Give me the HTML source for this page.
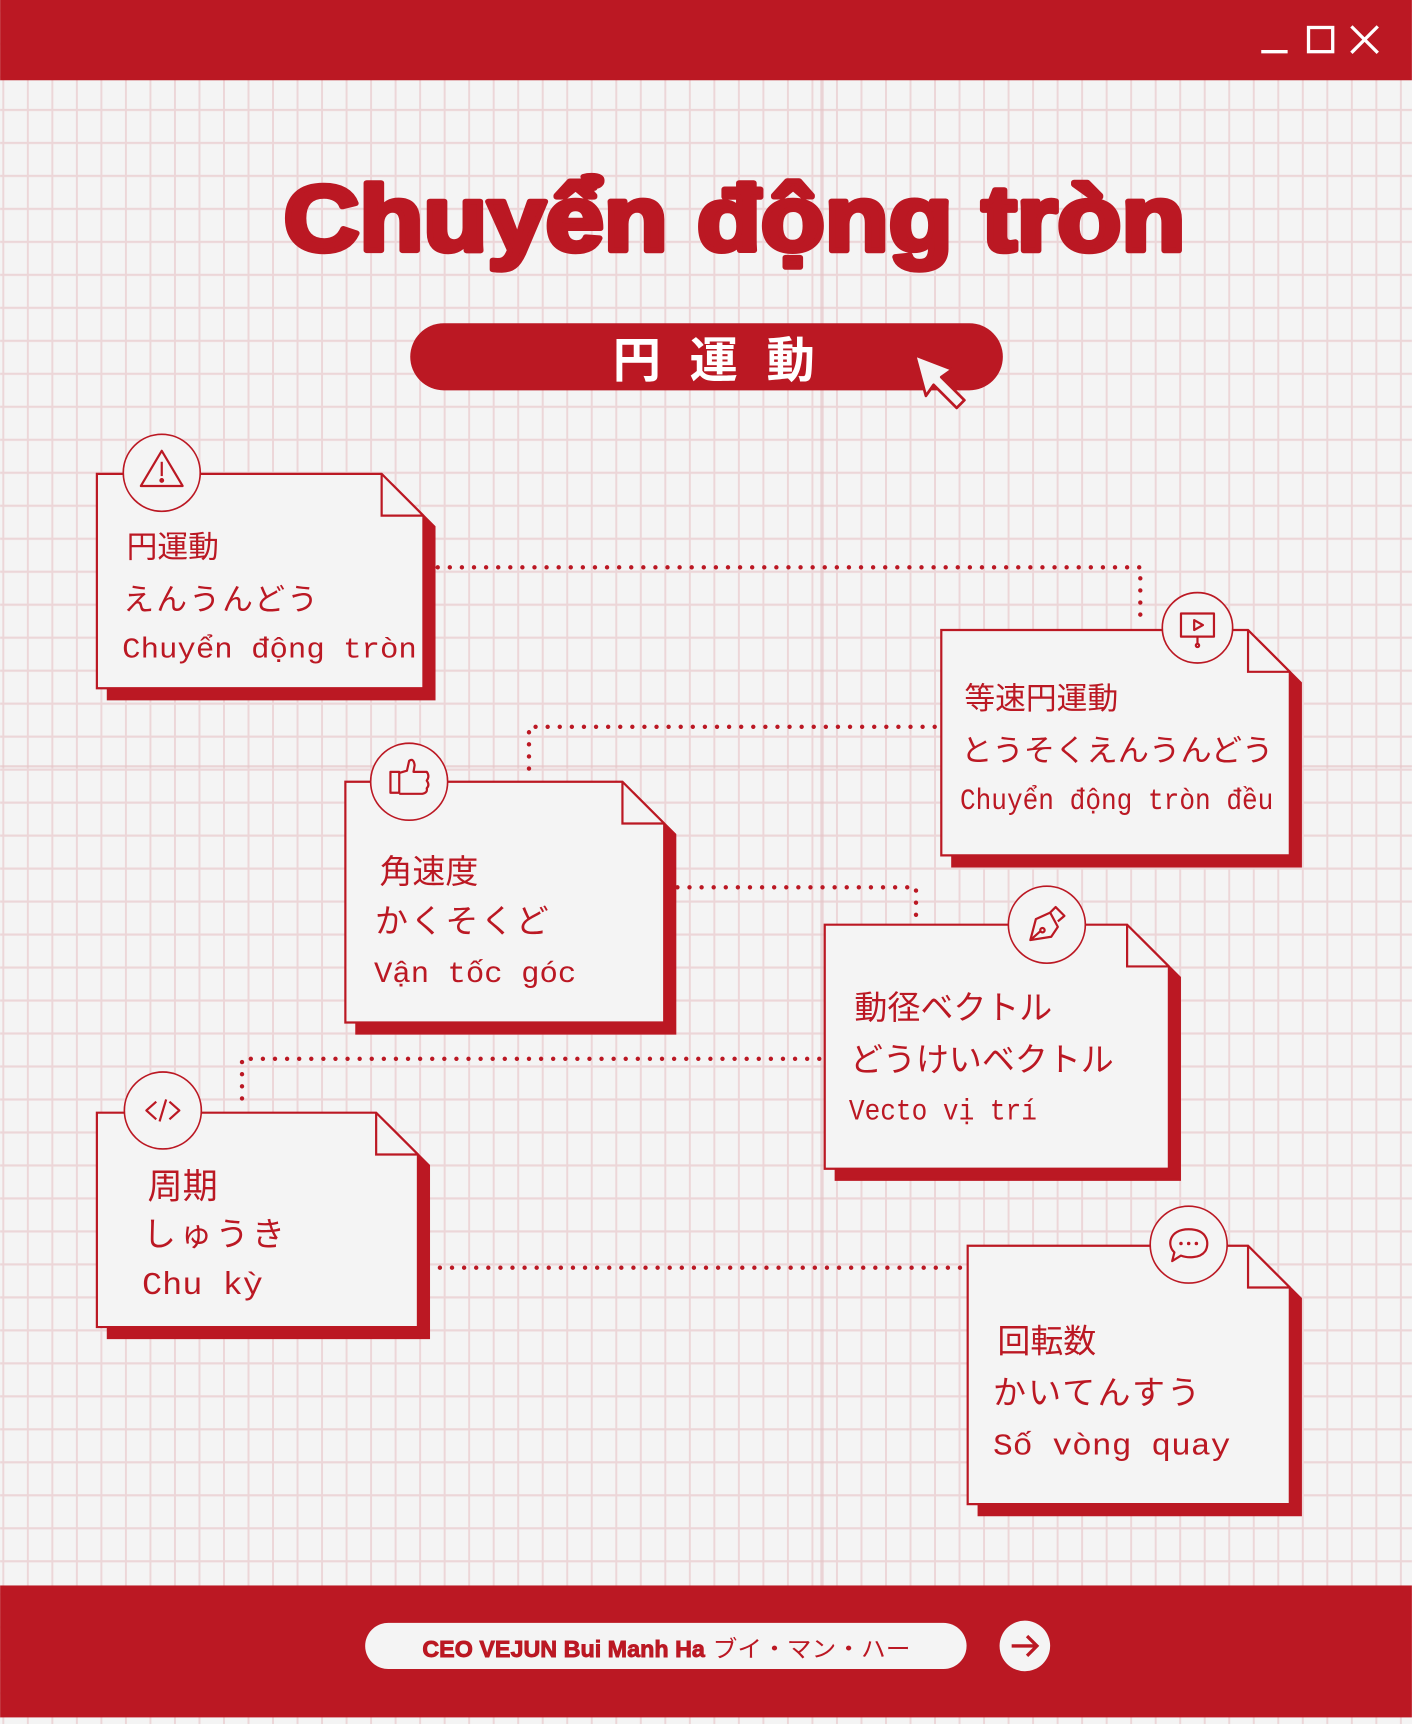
<!DOCTYPE html>
<html><head><meta charset="utf-8"><style>
html,body{margin:0;padding:0;background:#f4f4f4;}
svg{display:block;}
.jp{font-family:"Liberation Sans","Noto Sans CJK JP",sans-serif;fill:#bb1823;}
.vn{font-family:"Liberation Mono","DejaVu Sans Mono",monospace;fill:#bb1823;}
</style></head><body>
<svg width="1412" height="1724" viewBox="0 0 1284 1568" xmlns="http://www.w3.org/2000/svg">
<defs>
<pattern id="g" x="2" y="9" width="22.3" height="30" patternUnits="userSpaceOnUse">
<rect x="0" y="0" width="1.8" height="30" fill="#ecd6d8"/>
<rect x="0" y="0" width="22.3" height="2" fill="#ecd6d8"/>
</pattern>
</defs>
<rect width="1284" height="1568" fill="#f4f4f4"/>
<rect width="1284" height="1568" fill="url(#g)"/>
<rect x="746" y="73" width="3" height="1370" fill="#e6c5c8" opacity="0.7"/>
<rect x="0" y="696" width="1284" height="2" fill="#e6c5c8" opacity="0.7"/>
<!-- header -->
<rect x="0" y="0" width="1284" height="73" fill="#bb1823"/>
<g stroke="#fff" stroke-width="3" fill="none">
<line x1="1147" y1="47" x2="1171" y2="47"/>
<rect x="1190" y="25" width="22" height="22"/>
<line x1="1229" y1="24" x2="1253" y2="48"/><line x1="1253" y1="24" x2="1229" y2="48"/>
</g>
<!-- title -->
<text x="668" y="228" text-anchor="middle" textLength="820" lengthAdjust="spacingAndGlyphs" font-family="Liberation Sans, sans-serif" font-weight="bold" font-size="84" fill="#bb1823" stroke="#bb1823" stroke-width="5" stroke-linejoin="round">Chuyển động tròn</text>
<!-- pill -->
<rect x="373" y="294" width="539" height="61" rx="30.5" fill="#bb1823"/>
<text x="662" y="343" text-anchor="middle" font-family="Liberation Sans,'Noto Sans CJK JP',sans-serif" font-weight="bold" font-size="44" letter-spacing="26" fill="#fff">円運動</text>
<path d="M832 323 L866 336 L856 343 L877 364 L870 371 L849 350 L842 360 Z" fill="#f4f4f4" stroke="#bb1823" stroke-width="2.5" stroke-linejoin="round"/>
<!-- connectors -->
<g stroke="#bb1823" stroke-width="4" stroke-linecap="round" stroke-dasharray="0 11" fill="none">
<path d="M398 516 H1037 V568"/>
<path d="M850 661 H481 V708"/>
<path d="M616 807 H833 V838"/>
<path d="M745 963 H220 V1005"/>
<path d="M400 1153 H877"/>
</g>
<!-- cards -->
<g stroke="#bb1823" stroke-width="2">
<path d="M98 441 H357 L395 479 V636 H98 Z" fill="#bb1823"/>
<path d="M88 431 H347 L385 469 V626 H88 Z" fill="#f4f4f4"/>
<path d="M347 431 V469 H385" fill="none"/>
<circle cx="147" cy="430" r="35" fill="#f4f4f4" stroke-width="1.5"/>
<path d="M866 583 H1145 L1183 621 V788 H866 Z" fill="#bb1823"/>
<path d="M856 573 H1135 L1173 611 V778 H856 Z" fill="#f4f4f4"/>
<path d="M1135 573 V611 H1173" fill="none"/>
<circle cx="1089" cy="571" r="32" fill="#f4f4f4" stroke-width="1.5"/>
<path d="M324 721 H576 L614 759 V940 H324 Z" fill="#bb1823"/>
<path d="M314 711 H566 L604 749 V930 H314 Z" fill="#f4f4f4"/>
<path d="M566 711 V749 H604" fill="none"/>
<circle cx="372" cy="711" r="35" fill="#f4f4f4" stroke-width="1.5"/>
<path d="M760 851 H1035 L1073 889 V1073 H760 Z" fill="#bb1823"/>
<path d="M750 841 H1025 L1063 879 V1063 H750 Z" fill="#f4f4f4"/>
<path d="M1025 841 V879 H1063" fill="none"/>
<circle cx="952" cy="841" r="35" fill="#f4f4f4" stroke-width="1.5"/>
<path d="M98 1022 H352 L390 1060 V1217 H98 Z" fill="#bb1823"/>
<path d="M88 1012 H342 L380 1050 V1207 H88 Z" fill="#f4f4f4"/>
<path d="M342 1012 V1050 H380" fill="none"/>
<circle cx="148" cy="1010" r="35" fill="#f4f4f4" stroke-width="1.5"/>
<path d="M890 1143 H1145 L1183 1181 V1378 H890 Z" fill="#bb1823"/>
<path d="M880 1133 H1135 L1173 1171 V1368 H880 Z" fill="#f4f4f4"/>
<path d="M1135 1133 V1171 H1173" fill="none"/>
<circle cx="1081" cy="1132" r="35" fill="#f4f4f4" stroke-width="1.5"/>
</g>
<!-- icons -->
<g stroke="#bb1823" stroke-width="2" fill="none" stroke-linejoin="round">
<path d="M147 410 L166 442 H128 Z"/><line x1="147" y1="420" x2="147" y2="433"/><circle cx="147" cy="437" r="1.2" fill="#bb1823"/>
<rect x="1074" y="558" width="30" height="21"/><path d="M1086 564 L1094 568.5 L1086 573 Z"/><line x1="1089" y1="579" x2="1089" y2="586"/><circle cx="1089" cy="587" r="1.5"/>
<rect x="355" y="702" width="8" height="19"/><path d="M363 703 L370 701 L372 692 Q376 689 377 696 L376 702 L388 702 Q391 706 388 710 Q391 714 388 717 Q389 721 384 722 H363"/>
<path d="M937 855 L942 836 L955 830 L962 843 L956 852 Z"/><path d="M955 830 L960 825 L968 833 L962 838"/><circle cx="948" cy="846" r="2"/><line x1="937" y1="855" x2="946" y2="847"/>
<path d="M142 1002 L133 1010 L142 1018"/><path d="M154 1002 L163 1010 L154 1018"/><line x1="151" y1="1000" x2="145" y2="1020"/>
<path d="M1081 1118 C1099 1118 1100 1132 1096 1138 C1091 1145 1079 1144 1074 1142 L1066 1147 L1068 1139 C1061 1133 1063 1118 1081 1118 Z"/>
</g>
<g fill="#bb1823"><circle cx="1074" cy="1131" r="1.6"/><circle cx="1081" cy="1131" r="1.6"/><circle cx="1088" cy="1131" r="1.6"/></g>
<!-- card texts -->
<text class="jp" x="115" y="507" font-size="28">円運動</text>
<text class="jp" x="112" y="555" font-size="28" letter-spacing="2">えんうんどう</text>
<text class="vn" x="111" y="598" font-size="26" textLength="268" lengthAdjust="spacingAndGlyphs">Chuyển động tròn</text>

<text class="jp" x="877" y="645" font-size="28">等速円運動</text>
<text class="jp" x="874" y="692" font-size="28" textLength="284" lengthAdjust="spacingAndGlyphs">とうそくえんうんどう</text>
<text class="vn" x="873" y="736" font-size="27" textLength="285" lengthAdjust="spacingAndGlyphs">Chuyển động tròn đều</text>

<text class="jp" x="345" y="803" font-size="30">角速度</text>
<text class="jp" x="341" y="848" font-size="30" letter-spacing="2">かくそくど</text>
<text class="vn" x="340" y="893" font-size="27" textLength="184" lengthAdjust="spacingAndGlyphs">Vận tốc góc</text>

<text class="jp" x="777" y="927" font-size="30">動径ベクトル</text>
<text class="jp" x="773" y="974" font-size="30">どうけいベクトル</text>
<text class="vn" x="772" y="1018" font-size="27" textLength="171" lengthAdjust="spacingAndGlyphs">Vecto vị trí</text>

<text class="jp" x="134" y="1090" font-size="32">周期</text>
<text class="jp" x="130" y="1133" font-size="30" letter-spacing="3">しゅうき</text>
<text class="vn" x="129" y="1177" font-size="29" textLength="110" lengthAdjust="spacingAndGlyphs">Chu kỳ</text>

<text class="jp" x="907" y="1230" font-size="30">回転数</text>
<text class="jp" x="903" y="1277" font-size="30" letter-spacing="2">かいてんすう</text>
<text class="vn" x="903" y="1323" font-size="28" textLength="216" lengthAdjust="spacingAndGlyphs">Số vòng quay</text>
<!-- footer -->
<rect x="0" y="1442" width="1284" height="120" fill="#bb1823"/>
<rect x="332" y="1476" width="547" height="42" rx="21" fill="#f4f4f4"/>
<text x="384" y="1507" font-family="Liberation Sans,'Noto Sans CJK JP',sans-serif" font-size="21" font-weight="bold" fill="#bb1823" stroke="#bb1823" stroke-width="0.8" textLength="257" lengthAdjust="spacingAndGlyphs">CEO VEJUN Bui Manh Ha</text>
<text x="648" y="1507" font-family="Liberation Sans,'Noto Sans CJK JP',sans-serif" font-size="21" fill="#bb1823" textLength="180" lengthAdjust="spacingAndGlyphs">ブイ・マン・ハー</text>
<ellipse cx="932" cy="1497" rx="23" ry="23" fill="#f4f4f4"/>
<path d="M920 1497 H943 M934 1488 L943 1497 L934 1506" stroke="#bb1823" stroke-width="3" fill="none"/>
</svg>
</body></html>
